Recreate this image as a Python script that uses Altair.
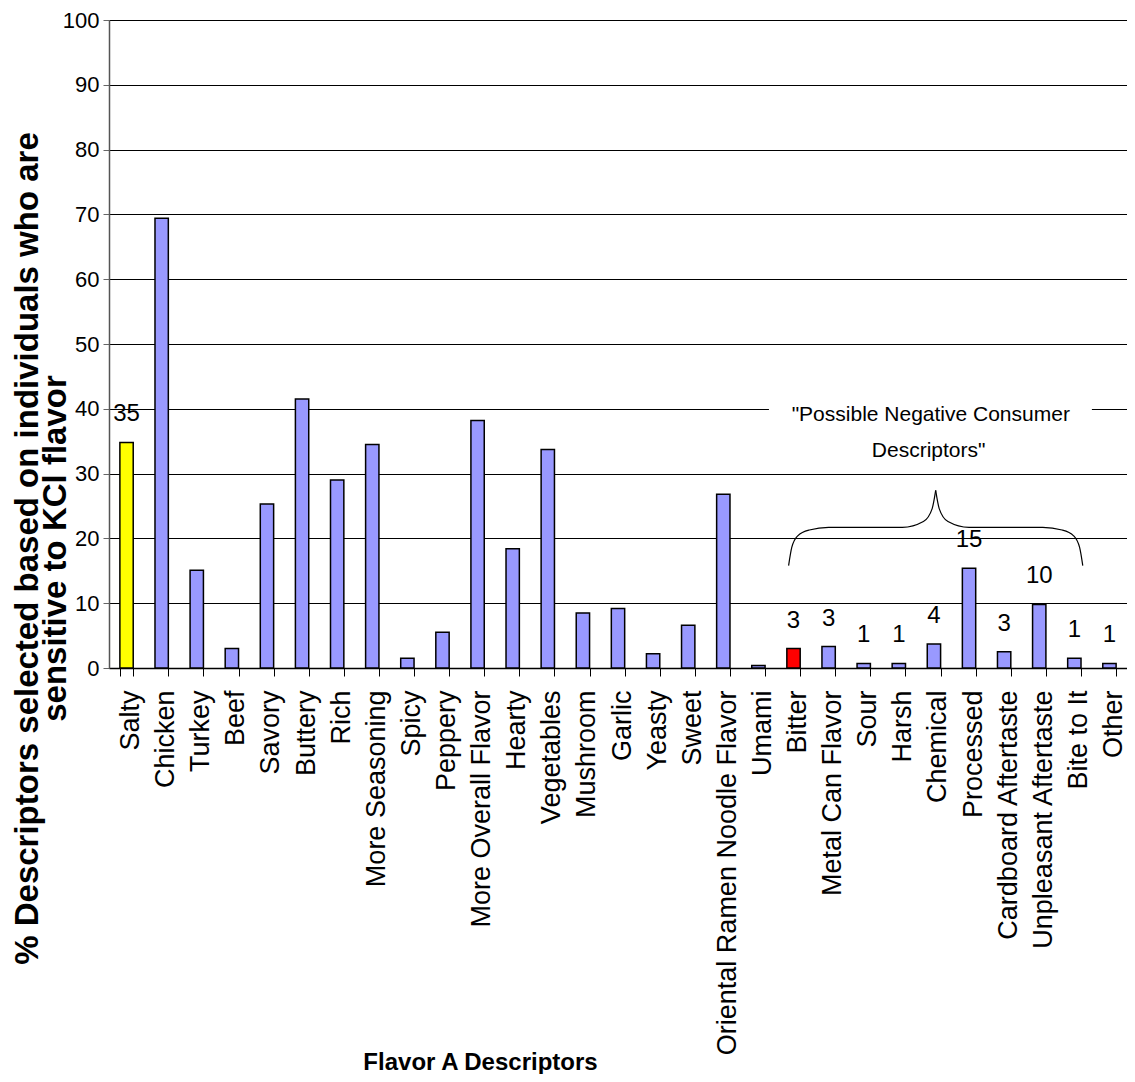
import altair as alt
import pandas as pd

categories = ["Salty", "Chicken", "Turkey", "Beef", "Savory", "Buttery", "Rich",
              "More Seasoning", "Spicy", "Peppery", "More Overall Flavor", "Hearty",
              "Vegetables", "Mushroom", "Garlic", "Yeasty", "Sweet",
              "Oriental Ramen Noodle Flavor", "Umami", "Bitter", "Metal Can Flavor",
              "Sour", "Harsh", "Chemical", "Processed", "Cardboard Aftertaste",
              "Unpleasant Aftertaste", "Bite to It", "Other"]
values = [34.8, 69.4, 15.1, 3.0, 25.3, 41.5, 29.0, 34.5, 1.5, 5.5, 38.2, 18.4,
          33.7, 8.5, 9.2, 2.2, 6.6, 26.8, 0.4, 3.0, 3.3, 0.7, 0.7, 3.7, 15.4,
          2.5, 9.8, 1.5, 0.7]
value_labels = ["35", "", "", "", "", "", "", "", "", "", "", "", "", "", "", "", "",
                "", "", "3", "3", "1", "1", "4", "15", "3", "10", "1", "1"]
groups = ["salty"] + ["base"] * 18 + ["bitter"] + ["base"] * 9
group_domain = ["salty", "bitter", "base"]
group_colors = ["#FFFF00", "#FF0000", "#9999FF"]

y_ticks = [0, 10, 20, 30, 40, 50, 60, 70, 80, 90, 100]

# annotation (in category-index units and % units)
note_lines = ['"Possible Negative Consumer', 'Descriptors"']
note_x = [23.41, 23.35]
note_y = [39.1, 33.5]
box_x = [18.8, 28.0]
box_y = [31.0, 42.0]
brace_x = [19.36, 19.45, 19.62, 19.95, 20.5, 22.6, 23.2, 23.45, 23.55,
           23.55, 23.65, 23.9, 24.5, 26.6, 27.15, 27.48, 27.65, 27.74]
brace_y = [15.8, 18.6, 20.4, 21.3, 21.7, 21.7, 22.6, 24.6, 27.4,
           27.4, 24.6, 22.6, 21.7, 21.7, 21.3, 20.4, 18.6, 15.8]
brace_part = ["L"] * 9 + ["R"] * 9

df = pd.DataFrame({"cat": categories, "val": values, "lab": value_labels, "grp": groups})
lab_df = df[df["lab"] != ""]
note_df = pd.DataFrame({"t": note_lines, "ix": note_x, "val": note_y})
box_df = pd.DataFrame({"x1": [box_x[0]], "x2": [box_x[1]], "val": [box_y[0]], "y2": [box_y[1]]})
brace_df = pd.DataFrame({"ix": brace_x, "val": brace_y, "part": brace_part,
                         "order": list(range(len(brace_x)))})

W, H = 1018, 648
REG = "Liberation Sans, Arial"

yscale = alt.Scale(domain=[0, 100], nice=False, zero=True)
xband = alt.Scale(domain=categories, paddingInner=0.62, paddingOuter=0.31)
xlin = alt.Scale(domain=[0, 29], nice=False, zero=False)

x_axis = alt.Axis(title="Flavor A Descriptors", labelAngle=-90, labelFont=REG,
                  labelFontSize=27, labelColor="black", labelPadding=14,
                  labelOffset=4, labelLimit=600, labelOverlap=False,
                  tickBand="extent", tickColor="black", tickSize=8, tickWidth=1,
                  domainColor="black", domainWidth=1.5, grid=False,
                  titleFont=REG, titleFontSize=24, titleFontWeight="bold",
                  titleColor="black", titleX=371, titleY=394,
                  titleBaseline="middle", titleAlign="center")
y_axis = alt.Axis(values=y_ticks,
                  title=["% Descriptors selected based on individuals who are",
                         "sensitive to KCl flavor"],
                  labelFont=REG, labelFontSize=22, labelColor="black",
                  labelPadding=4, tickColor="#666666", tickSize=6,
                  domainColor="#555555", domainWidth=1.5,
                  grid=True, gridColor="black", gridWidth=1,
                  titleFont=REG, titleFontSize=33, titleFontWeight="bold",
                  titleColor="black", titleLineHeight=28, titleY=528,
                  titleX=-72, titleBaseline="alphabetic", titleAlign="center",
                  titleAngle=270)

bars = alt.Chart(df).mark_bar(stroke="black", strokeWidth=1.5).encode(
    x=alt.X("cat:N", sort=categories, scale=xband, axis=x_axis),
    y=alt.Y("val:Q", scale=yscale, axis=y_axis),
    color=alt.Color("grp:N", scale=alt.Scale(domain=group_domain, range=group_colors),
                    legend=None),
)

labels = alt.Chart(lab_df).mark_text(dy=-28, baseline="middle", font=REG,
                                     fontSize=24, color="black").encode(
    x=alt.X("cat:N", sort=categories, scale=xband, axis=x_axis),
    y=alt.Y("val:Q", scale=yscale, axis=y_axis),
    text="lab:N",
)

box = alt.Chart(box_df).mark_rect(color="white").encode(
    x=alt.X("x1:Q", scale=xlin, axis=None),
    x2="x2:Q",
    y=alt.Y("val:Q", scale=yscale, axis=y_axis),
    y2="y2:Q",
)

note = alt.Chart(note_df).mark_text(font=REG, fontSize=21, color="black",
                                    baseline="middle").encode(
    x=alt.X("ix:Q", scale=xlin, axis=None),
    y=alt.Y("val:Q", scale=yscale, axis=y_axis),
    text="t:N",
)

brace = alt.Chart(brace_df).mark_line(color="black", strokeWidth=1.2,
                                      interpolate="monotone").encode(
    x=alt.X("ix:Q", scale=xlin, axis=None),
    y=alt.Y("val:Q", scale=yscale, axis=y_axis),
    detail="part:N",
    order="order:Q",
)

main = alt.layer(bars, labels)
ann = alt.layer(box, note, brace)

chart = alt.layer(main, ann).resolve_scale(x="independent").properties(
    width=W, height=H,
    padding={"left": 101, "top": 12, "right": 0, "bottom": 406},
    autosize=alt.AutoSizeParams(type="none"),
).configure_view(stroke=None).configure(font=REG)

chart.save("out.html", embed_options={"renderer": "svg", "actions": False})
